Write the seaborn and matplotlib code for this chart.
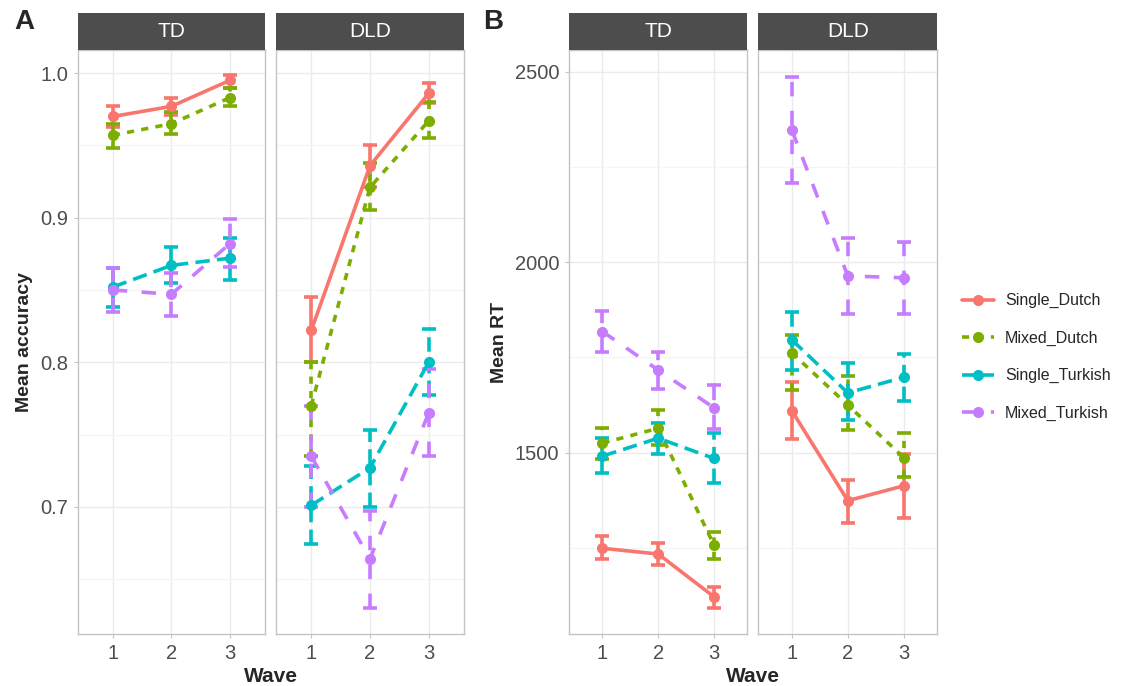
import matplotlib
matplotlib.use("Agg")
import matplotlib.pyplot as plt
from matplotlib.patches import Rectangle
import seaborn as sns
import pandas as pd
import numpy as np

sns.set_theme(style="white")
plt.rcParams['font.family'] = ['Liberation Sans', 'DejaVu Sans']

conditions = ["Single_Dutch", "Mixed_Dutch", "Single_Turkish", "Mixed_Turkish"]
groups = ["TD", "DLD"]
waves = [1, 2, 3]

# Panel A: mean accuracy (mean, low, high) per group, condition, wave
acc_TD_mean = {
    "Single_Dutch":   [0.970, 0.977, 0.995],
    "Mixed_Dutch":    [0.957, 0.965, 0.983],
    "Single_Turkish": [0.852, 0.867, 0.872],
    "Mixed_Turkish":  [0.850, 0.847, 0.882],
}
acc_TD_low = {
    "Single_Dutch":   [0.963, 0.971, 0.990],
    "Mixed_Dutch":    [0.948, 0.958, 0.977],
    "Single_Turkish": [0.838, 0.855, 0.857],
    "Mixed_Turkish":  [0.835, 0.832, 0.866],
}
acc_TD_high = {
    "Single_Dutch":   [0.977, 0.983, 0.999],
    "Mixed_Dutch":    [0.965, 0.973, 0.990],
    "Single_Turkish": [0.865, 0.880, 0.886],
    "Mixed_Turkish":  [0.865, 0.862, 0.899],
}
acc_DLD_mean = {
    "Single_Dutch":   [0.822, 0.936, 0.986],
    "Mixed_Dutch":    [0.770, 0.921, 0.967],
    "Single_Turkish": [0.701, 0.727, 0.800],
    "Mixed_Turkish":  [0.735, 0.664, 0.765],
}
acc_DLD_low = {
    "Single_Dutch":   [0.800, 0.921, 0.979],
    "Mixed_Dutch":    [0.735, 0.905, 0.955],
    "Single_Turkish": [0.674, 0.700, 0.777],
    "Mixed_Turkish":  [0.700, 0.630, 0.735],
}
acc_DLD_high = {
    "Single_Dutch":   [0.845, 0.950, 0.993],
    "Mixed_Dutch":    [0.800, 0.938, 0.980],
    "Single_Turkish": [0.728, 0.753, 0.823],
    "Mixed_Turkish":  [0.770, 0.697, 0.795],
}

# Panel B: mean RT
rt_TD_mean = {
    "Single_Dutch":   [1249, 1234, 1122],
    "Mixed_Dutch":    [1525, 1564, 1258],
    "Single_Turkish": [1491, 1538, 1485],
    "Mixed_Turkish":  [1818, 1717, 1618],
}
rt_TD_low = {
    "Single_Dutch":   [1220, 1205, 1092],
    "Mixed_Dutch":    [1483, 1520, 1220],
    "Single_Turkish": [1446, 1497, 1421],
    "Mixed_Turkish":  [1765, 1666, 1561],
}
rt_TD_high = {
    "Single_Dutch":   [1280, 1262, 1148],
    "Mixed_Dutch":    [1566, 1612, 1293],
    "Single_Turkish": [1538, 1577, 1551],
    "Mixed_Turkish":  [1873, 1765, 1678],
}
rt_DLD_mean = {
    "Single_Dutch":   [1610, 1374, 1413],
    "Mixed_Dutch":    [1762, 1625, 1487],
    "Single_Turkish": [1796, 1657, 1698],
    "Mixed_Turkish":  [2347, 1964, 1959],
}
rt_DLD_low = {
    "Single_Dutch":   [1535, 1316, 1328],
    "Mixed_Dutch":    [1665, 1560, 1437],
    "Single_Turkish": [1717, 1586, 1636],
    "Mixed_Turkish":  [2209, 1864, 1864],
}
rt_DLD_high = {
    "Single_Dutch":   [1686, 1427, 1497],
    "Mixed_Dutch":    [1809, 1700, 1551],
    "Single_Turkish": [1870, 1735, 1759],
    "Mixed_Turkish":  [2487, 2063, 2054],
}

colors = {"Single_Dutch": "#F8766D", "Mixed_Dutch": "#7CAE00",
          "Single_Turkish": "#00BFC4", "Mixed_Turkish": "#C77CFF"}
dashes = {"Single_Dutch": "", "Mixed_Dutch": (2, 2),
          "Single_Turkish": (4, 2), "Mixed_Turkish": (4, 4)}
ls_map = {"Single_Dutch": "solid", "Mixed_Dutch": (0, (2, 2)),
          "Single_Turkish": (0, (4, 2)), "Mixed_Turkish": (0, (4, 4))}


def build_df(mean, low, high):
    rows = []
    for c in conditions:
        for i, w in enumerate(waves):
            rows.append({"Wave": w, "cond": c, "val": mean[c][i],
                         "lo": low[c][i], "hi": high[c][i]})
    return pd.DataFrame(rows)


W, H = 1124, 686
fig = plt.figure(figsize=(W / 100, H / 100), dpi=100)

LW = 2.6
top_px, bot_px = 50, 634


def fr(l, r):
    return [l / W, (H - bot_px) / H, (r - l) / W, (bot_px - top_px) / H]


panels = {
    "A": [(fr(77.7, 265), "TD", acc_TD_mean, acc_TD_low, acc_TD_high),
          (fr(276, 464), "DLD", acc_DLD_mean, acc_DLD_low, acc_DLD_high)],
    "B": [(fr(569, 747.3), "TD", rt_TD_mean, rt_TD_low, rt_TD_high),
          (fr(758.3, 937.3), "DLD", rt_DLD_mean, rt_DLD_low, rt_DLD_high)],
}
ylims = {"A": (0.612, 1.016), "B": (1024, 2557)}
major = {"A": [0.7, 0.8, 0.9, 1.0], "B": [1500, 2000, 2500]}
minor = {"A": [0.65, 0.75, 0.85, 0.95], "B": [1250, 1750, 2250]}
ylabels = {"A": "Mean accuracy", "B": "Mean RT"}

legend_handles = None
for key, plist in panels.items():
    for j, (rect, grp, mn, lo, hi) in enumerate(plist):
        ax = fig.add_axes(rect)
        df = build_df(mn, lo, hi)
        sns.lineplot(data=df, x="Wave", y="val", hue="cond", style="cond",
                     hue_order=conditions, style_order=conditions,
                     palette=colors, dashes=dashes, markers=["o"] * 4,
                     markersize=8, markeredgewidth=0, linewidth=LW,
                     ax=ax, legend=(key == "A" and j == 0), zorder=3)
        for c in conditions:
            sub = df[df["cond"] == c]
            eb = ax.errorbar(sub["Wave"], sub["val"],
                             yerr=[sub["val"] - sub["lo"], sub["hi"] - sub["val"]],
                             fmt="none", ecolor=colors[c], elinewidth=LW,
                             capsize=5, capthick=LW, zorder=2)
            for lc in eb[2]:
                lc.set_linestyle(ls_map[c])
        ax.set_xlim(0.4, 3.6)
        ax.set_ylim(*ylims[key])
        ax.set_xticks(waves)
        ax.set_yticks(major[key])
        ax.set_yticks(minor[key], minor=True)
        ax.grid(True, which="major", color="#EBEBEB", linewidth=1.0)
        ax.grid(True, which="minor", axis="y", color="#F5F5F5", linewidth=0.8)
        ax.set_axisbelow(True)
        for s in ax.spines.values():
            s.set_color("#C4C4C4")
            s.set_linewidth(1.0)
        ax.tick_params(axis="both", which="major", length=3, width=0.8,
                       color="#C4C4C4", labelsize=14.5, labelcolor="#4D4D4D",
                       pad=4, left=True, bottom=True)
        ax.tick_params(axis="y", which="minor", length=0)
        ax.set_xlabel("")
        if j == 0:
            ax.set_ylabel(ylabels[key], fontsize=14, fontweight="bold",
                          labelpad=5)
            if key == "A":
                ax.set_yticklabels(["0.7", "0.8", "0.9", "1.0"])
        else:
            ax.set_ylabel("")
            ax.set_yticklabels([])
            ax.tick_params(axis="y", which="major", length=0)
        if ax.get_legend() is not None:
            legend_handles, legend_labels = ax.get_legend_handles_labels()
            ax.get_legend().remove()
        # strip
        x0, y0, w0, h0 = rect
        strip_h = 37.3 / H
        fig.patches.append(Rectangle((x0, y0 + h0), w0, strip_h,
                                     transform=fig.transFigure,
                                     facecolor="#4D4D4D", edgecolor="none"))
        fig.text(x0 + w0 / 2, y0 + h0 + strip_h / 2, grp, color="white",
                 fontsize=15, ha="center", va="center")

# Wave labels
fig.text(271 / W, 1 - 677 / H, "Wave", fontsize=15, fontweight="bold",
         ha="center", va="center")
fig.text(752.7 / W, 1 - 677 / H, "Wave", fontsize=15, fontweight="bold",
         ha="center", va="center")

# Panel letters
fig.text(24 / W, 1 - 22 / H, "A", fontsize=20, fontweight="bold",
         ha="center", va="center")
fig.text(493 / W, 1 - 22 / H, "B", fontsize=20, fontweight="bold",
         ha="center", va="center")

leg = fig.legend(legend_handles, legend_labels, loc="center left",
                 bbox_to_anchor=(957 / W, 1 - 357 / H), frameon=False,
                 fontsize=11.5, handlelength=2.0, labelspacing=1.4,
                 handletextpad=0.7, borderaxespad=0, borderpad=0.3)

fig.savefig("out.png", dpi=100)
